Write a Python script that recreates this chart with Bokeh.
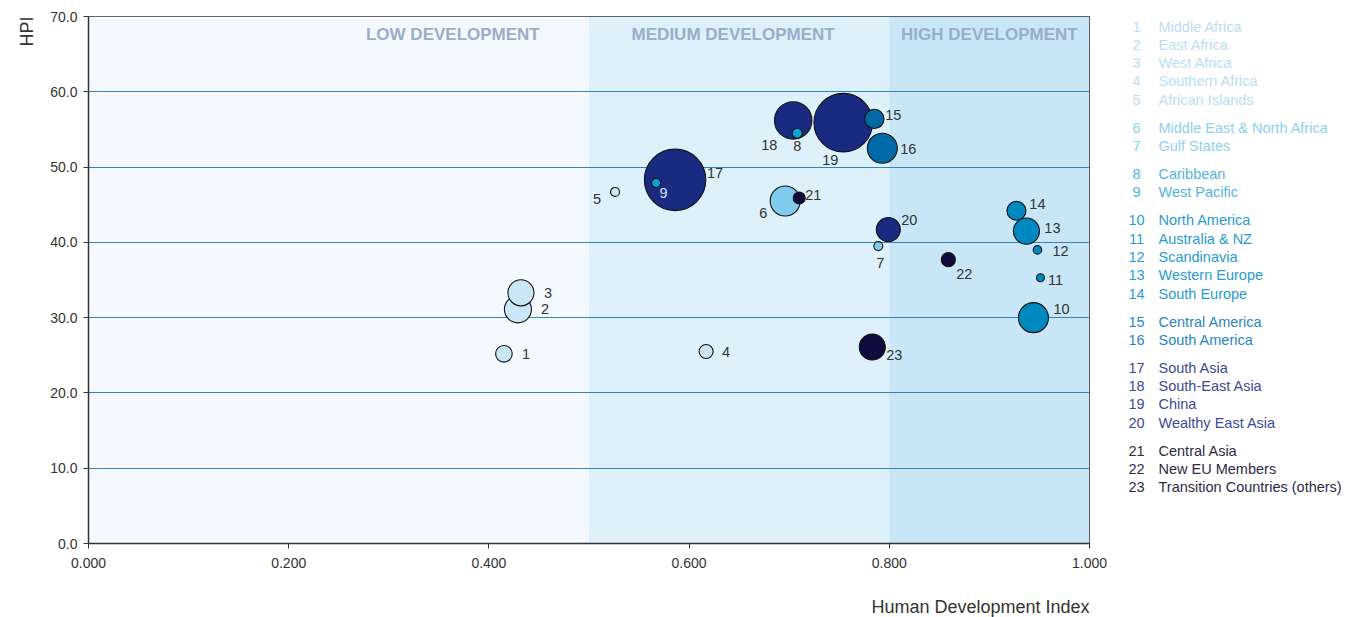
from bokeh.plotting import figure
from bokeh.models import ColumnDataSource, Range1d, FixedTicker, NumeralTickFormatter, BoxAnnotation, Title
from bokeh.layouts import row, column
from bokeh.core.properties import value
from bokeh.embed import file_html
from bokeh.resources import INLINE
import math

FONT = "Liberation Sans"

ids = list(range(1, 24))
names = ["Middle Africa", "East Africa", "West Africa", "Southern Africa", "African Islands",
         "Middle East & North Africa", "Gulf States",
         "Caribbean", "West Pacific",
         "North America", "Australia & NZ", "Scandinavia", "Western Europe", "South Europe",
         "Central America", "South America",
         "South Asia", "South-East Asia", "China", "Wealthy East Asia",
         "Central Asia", "New EU Members", "Transition Countries (others)"]
hdi = [0.415, 0.429, 0.432, 0.617, 0.526, 0.696, 0.789, 0.708, 0.567, 0.944, 0.951, 0.948,
       0.937, 0.927, 0.785, 0.793, 0.586, 0.704, 0.754, 0.799, 0.710, 0.859, 0.783]
hpi = [25.2, 31.1, 33.3, 25.5, 46.7, 45.5, 39.5, 54.5, 47.9, 30.0, 35.3, 39.0,
       41.5, 44.2, 56.4, 52.5, 48.3, 56.2, 55.9, 41.7, 45.9, 37.7, 26.1]
population = [110, 290, 270, 78, 32, 358, 32, 40, 32, 358, 25, 29,
              270, 144, 150, 358, 1500, 556, 1365, 229, 57, 78, 270]
group = [0, 0, 0, 0, 0, 1, 1, 2, 2, 3, 3, 3, 3, 3, 4, 4, 5, 5, 5, 5, 6, 6, 6]

zones = ["LOW DEVELOPMENT", "MEDIUM DEVELOPMENT", "HIGH DEVELOPMENT"]
zone_start = [0.0, 0.5, 0.8]
zone_end = [0.5, 0.8, 1.0]
zone_label_x = [0.364, 0.644, 0.900]

y_ticks = [0, 10, 20, 30, 40, 50, 60, 70]
x_ticks = [0.0, 0.2, 0.4, 0.6, 0.8, 1.0]

x_title = "Human Development Index"
y_title = "HPI"

# styles
zone_colors = ["#f3f9fe", "#def0fa", "#c9e6f7"]
fill_by_group = ["#cbe7f7", "#7fcbeb", "#0aa5d6", "#0088c0", "#006aa6", "#192a80", "#0e0a3d"]
legend_text_by_group = ["#b8def3", "#8fd0ee", "#55b4e0", "#2a9bd1", "#2a86c2", "#3b4b94", "#2c2b45"]
label_dx = [22, 27, 27, 20, -18, -22, 2, 0, 7.5, 28, 15, 23, 26, 21, 19, 26, 40, -24, -13, 21, 14, 16, 22]
label_dy = [0, 0, 0, 0, 7, 12, 17, 13, 10, -9, 2, 1, -3, -7, -4, 1, -6.5, 25, 37, -10, -3, 14, 8]
label_colors = ["#333333"] * 23
label_colors[8] = "#cfe6f5"

radius_px = [math.sqrt(v / 1.59) for v in population]

data = dict(
    x=hdi, y=hpi, r=radius_px, lab=[str(i) for i in ids],
    fill=[fill_by_group[g] for g in group],
    dx=label_dx, dy=label_dy, lc=label_colors,
)
order = sorted(range(23), key=lambda i: -population[i])
src = ColumnDataSource({k: [v[i] for i in order] for k, v in data.items()})

H = 577
TOP = 16
BOTTOM = 34
LEFT = 88
RIGHT = 20
W = 1109

p = figure(width=W, height=H, output_backend="svg", toolbar_location=None,
           x_range=Range1d(0, 1.0), y_range=Range1d(0, 70),
           min_border_left=LEFT, min_border_right=RIGHT, min_border_top=TOP, min_border_bottom=BOTTOM)
p.background_fill_color = "white"
p.border_fill_color = "white"
p.outline_line_color = "#333333"
p.outline_line_width = 1
p.xgrid.visible = False
p.ygrid.grid_line_color = "#2f86bb"
p.ygrid.grid_line_width = 1
p.ygrid.ticker = FixedTicker(ticks=[10, 20, 30, 40, 50, 60])
p.ygrid.level = "underlay"

for s, e, c in zip(zone_start, zone_end, zone_colors):
    p.add_layout(BoxAnnotation(left=s, right=e, fill_color=c, fill_alpha=1.0, line_alpha=0, level="image"))

p.text(x=zone_label_x, y=[67.6] * 3, text=zones, text_font=value(FONT), text_font_style="bold",
       text_font_size="17px", text_color="#9aadc9", text_align="center", text_baseline="middle")

p.circle(x="x", y="y", radius="r", radius_units="screen", fill_color="fill", line_color="#111111",
         line_width=1.1, source=src)
p.text(x="x", y="y", text="lab", x_offset="dx", y_offset="dy", text_color="lc",
       text_font=value(FONT), text_font_size="14.5px", text_align="center", text_baseline="middle",
       source=src)

p.xaxis.ticker = FixedTicker(ticks=x_ticks)
p.yaxis.ticker = FixedTicker(ticks=y_ticks)
p.xaxis.formatter = NumeralTickFormatter(format="0.000")
p.yaxis.formatter = NumeralTickFormatter(format="0.0")
for ax in (p.xaxis, p.yaxis):
    ax.major_label_text_font = FONT
    ax.major_label_text_font_size = "14px"
    ax.major_label_text_color = "#333333"
    ax.axis_line_color = "#333333"
    ax.axis_line_width = 1.5
    ax.major_tick_line_color = "#333333"
    ax.major_tick_in = 0
    ax.major_tick_out = 5
    ax.minor_tick_line_color = None
p.xaxis.major_label_standoff = 9
p.yaxis.major_label_standoff = 6

p.add_layout(Title(text=y_title, align="right", text_font=FONT,
                   text_font_size="18px", text_font_style="normal", text_color="#333333",
                   standoff=21), "left")

# legend panel (same frame top/bottom as the chart, y in page pixels)
leg_y = [26 + 18.3 * i + 9.7 * g for i, g in enumerate(group)]
leg = figure(width=240, height=H, output_backend="svg", toolbar_location=None,
             x_range=Range1d(W, W + 240), y_range=Range1d(H - BOTTOM, TOP),
             min_border_left=0, min_border_right=0, min_border_top=TOP, min_border_bottom=BOTTOM)
leg.axis.visible = False
leg.grid.visible = False
leg.outline_line_color = None
leg.background_fill_color = "white"
leg.border_fill_color = "white"
lsrc = ColumnDataSource(dict(y=leg_y, num=[str(i) for i in ids], name=names,
                             c=[legend_text_by_group[g] for g in group]))
leg.text(x=1136, y="y", text="num", text_color="c", text_font=value(FONT), text_font_size="14.5px",
         text_align="center", text_baseline="middle", source=lsrc)
leg.text(x=1158, y="y", text="name", text_color="c", text_font=value(FONT), text_font_size="14.5px",
         text_align="left", text_baseline="middle", source=lsrc)

# strip below the chart for the x axis title (x in page pixels, same frame as chart)
XH = 40
xfig = figure(width=W, height=XH, output_backend="svg", toolbar_location=None,
              x_range=Range1d(LEFT, W - RIGHT), y_range=Range1d(H + XH, H),
              min_border_left=LEFT, min_border_right=RIGHT, min_border_top=0, min_border_bottom=0)
xfig.axis.visible = False
xfig.grid.visible = False
xfig.outline_line_color = None
xfig.background_fill_color = "white"
xfig.border_fill_color = "white"
xfig.text(x=[W - RIGHT], y=[606], text=[x_title], text_align="right", text_baseline="middle",
          text_font=value(FONT), text_font_size="18px", text_color="#333333")

layout = column(row(p, leg), xfig)
open("out.html", "w").write(file_html(layout, INLINE))
